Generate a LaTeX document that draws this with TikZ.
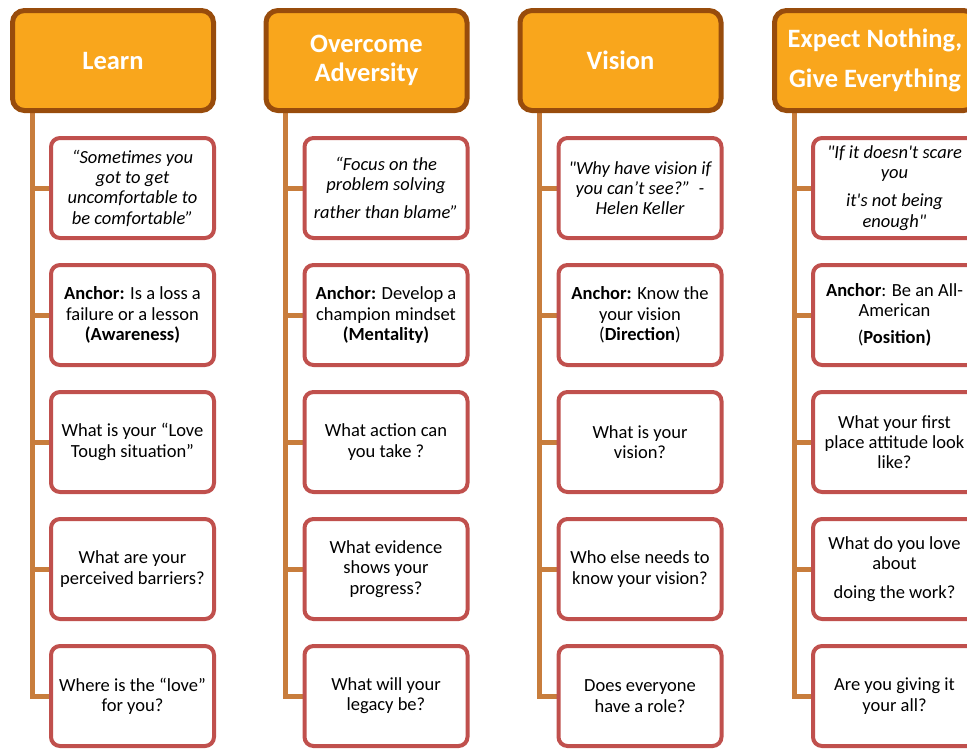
\documentclass[tikz,border=0pt]{standalone}
\usepackage{fontspec}
\setmainfont{Carlito}[Ligatures=TeXOff]
\usetikzlibrary{backgrounds}
\definecolor{hfill}{RGB}{249,166,28}
\definecolor{hline}{RGB}{152,76,12}
\definecolor{cline}{RGB}{192,80,77}
\definecolor{connc}{RGB}{200,125,60}
\begin{document}
\begin{tikzpicture}[x=1pt,y=-1pt,
  headbox/.style={draw=hline, line width=5pt, fill=hfill, rounded corners=12pt,
    minimum width=201pt, minimum height=100pt, inner sep=0pt, outer sep=0pt,
    text=white, align=center, font=\fontsize{26.5}{29}\selectfont\bfseries},
  childbox/.style={draw=cline, line width=4pt, fill=white, rounded corners=9pt,
    minimum width=163pt, minimum height=100pt, inner sep=0pt, outer sep=0pt,
    align=center, font=\fontsize{18.5}{20.3}\selectfont},
  quotebox/.style={childbox, font=\fontsize{18.5}{20.3}\selectfont\itshape},
  connector/.style={draw=connc, line width=5pt}]
\useasboundingbox (0,0) rectangle (967,748);
\clip (0,0) rectangle (967,748);

% column 1
\node[headbox] (h1) at (113,60.5) {Learn};
\node[quotebox] (c11) at (132.5,188) {“Sometimes you\\got to get\\uncomfortable to\\be comfortable”};
\node[childbox] (c12) at (132.5,315) {\textbf{Anchor:} Is a loss a\\failure or a lesson\\\textbf{(Awareness)}};
\node[childbox] (c13) at (132.5,442) {What is your “Love\\Tough situation”};
\node[childbox] (c14) at (132.5,569) {What are your\\perceived barriers?};
\node[childbox] (c15) at (132.5,696) {Where is the “love”\\for you?};

% column 2
\node[headbox] (h2) at (366.5,60.5) {Overcome\\Adversity};
\node[quotebox] (c21) at (386,188) {“Focus on the\\problem solving\\[8pt]rather than blame”};
\node[childbox] (c22) at (386,315) {\textbf{Anchor:} Develop a\\champion mindset\\\textbf{(Mentality)}};
\node[childbox] (c23) at (386,442) {What action can\\you take ?};
\node[childbox] (c24) at (386,569) {What evidence\\shows your\\progress?};
\node[childbox] (c25) at (386,696) {What will your\\legacy be?};

% column 3
\node[headbox] (h3) at (620.5,60.5) {Vision};
\node[quotebox] (c31) at (640,188) {"Why have vision if\\you can’t see?”\ \ -\\Helen Keller};
\node[childbox] (c32) at (640,315) {\textbf{Anchor:} Know the\\your vision\\(\textbf{Direction})};
\node[childbox] (c33) at (640,442) {What is your\\vision?};
\node[childbox] (c34) at (640,569) {Who else needs to\\know your vision?};
\node[childbox] (c35) at (640,696) {Does everyone\\have a role?};

% column 4
\node[headbox] (h4) at (875,60.5) {Expect Nothing,\\[11pt]Give Everything};
\node[quotebox] (c41) at (894.5,188) {"If it doesn't scare\\you\\[8pt]it's not being\\enough"};
\node[childbox] (c42) at (894.5,315) {\textbf{Anchor}: Be an All-\\American\\[7pt](\textbf{Position)}};
\node[childbox] (c43) at (894.5,442) {What your first\\place attitude look\\like?};
\node[childbox] (c44) at (894.5,569) {What do you love\\about\\[8pt]doing the work?};
\node[childbox] (c45) at (894.5,696) {Are you giving it\\your all?};

\begin{pgfonlayer}{background}
\foreach \c in {1,...,4}{
  \coordinate (v\c) at ([xshift=19.5pt]h\c.south west);
  \foreach \k in {1,...,5}{
    \draw[connector] (v\c) |- (c\c\k.west);
  }
}
\end{pgfonlayer}
\end{tikzpicture}
\end{document}
